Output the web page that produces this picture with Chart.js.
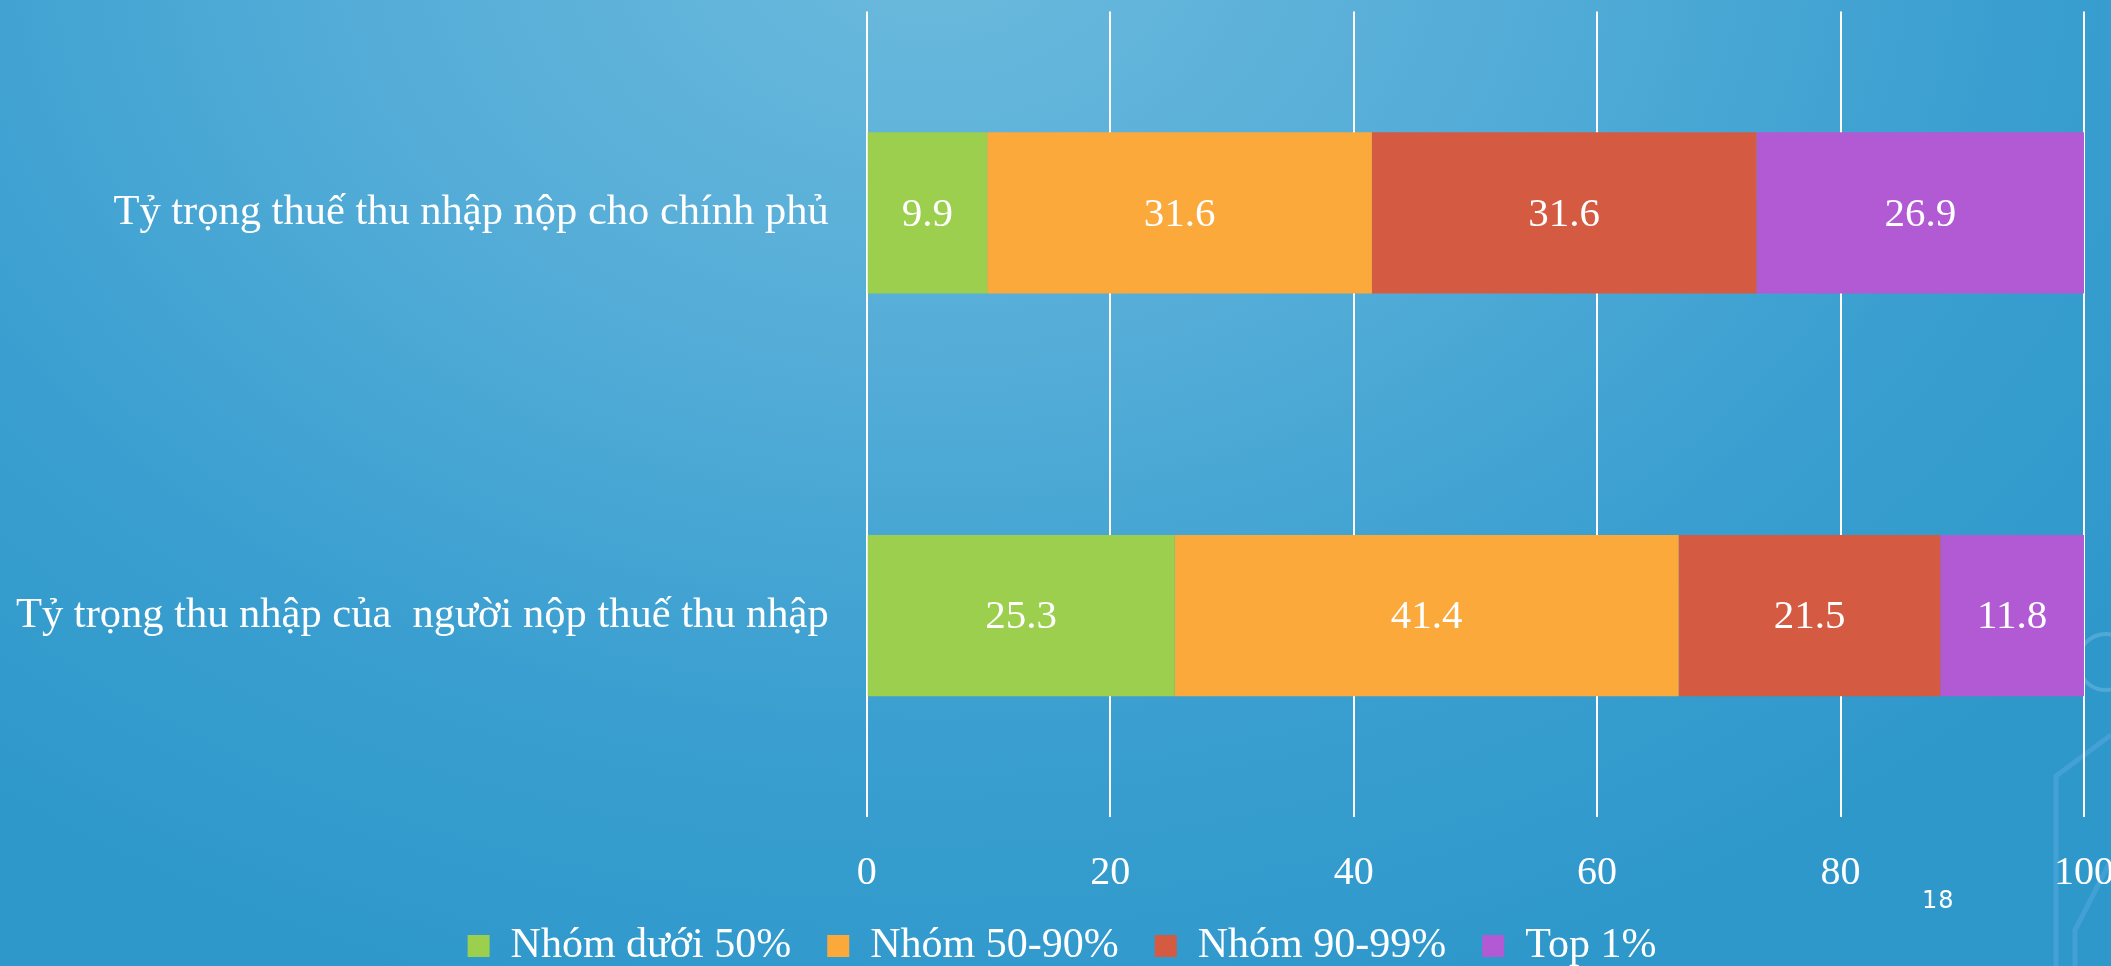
<!DOCTYPE html>
<html>
<head>
<meta charset="utf-8">
<script src="https://cdn.jsdelivr.net/npm/chart.js@4.4.1/dist/chart.umd.min.js"></script>
<style>
    html, body {
        margin: 0;
        width: 2111px;
        height: 966px;
        overflow: hidden;
    }
    body {
        position: relative;
        background: radial-gradient(ellipse 1500px 1100px at 930px -60px, #6cbadd 0%, #53acd7 40%, #3a9fd0 72%, #2f98cb 100%);
        font-family: "Liberation Serif", "Times New Roman", serif;
    }
    /* el lienzo es mas grande que la ventana: asi el "100" queda cortado como en la diapositiva */
    #wrap {
        position: absolute;
        left: -36px;
        top: -52px;
        width: 2182px;
        height: 1029px;
    }
    #pageNum {
        position: absolute;
        left: 1922px;
        top: 886px;
        color: #fff;
        font-family: "DejaVu Sans", "Open Sans", sans-serif;
        font-size: 24px;
        letter-spacing: 1px;
    }
    #deco {
        position: absolute;
        left: 0;
        top: 0;
    }
</style>
</head>
<body>
<svg id="deco" width="2111" height="966">
    <circle cx="2106" cy="662" r="28" fill="none" stroke="rgba(120,190,230,0.45)" stroke-width="4"/>
    <polyline points="2111,735 2056,776 2056,966" fill="none" stroke="rgba(90,170,225,0.5)" stroke-width="5"/>
    <polyline points="2111,860 2075,930 2075,966" fill="none" stroke="rgba(90,170,225,0.45)" stroke-width="5"/>
</svg>
<div id="wrap"><canvas id="grafico"></canvas></div>
<div id="pageNum">18</div>
<script>
const categorias = [
    'Tỷ trọng thuế thu nhập nộp cho chính phủ',
    'Tỷ trọng thu nhập của  người nộp thuế thu nhập'
];
const grupos = ['Nhóm dưới 50%', 'Nhóm 50-90%', 'Nhóm 90-99%', 'Top 1%'];
const nhomDuoi50 = [9.9, 25.3];
const nhom50_90 = [31.6, 41.4];
const nhom90_99 = [31.6, 21.5];
const top1 = [26.9, 11.8];
const ticksX = [0, 20, 40, 60, 80, 100];

const colores = ['#9bcf4d', '#fba93b', '#d45a42', '#b259d4'];
const serie = [nhomDuoi50, nhom50_90, nhom90_99, top1];
const fuente = '"Liberation Serif", "Times New Roman", serif';

const etiquetasBarras = {
    id: 'etiquetasBarras',
    afterDatasetsDraw(chart) {
        const ctx = chart.ctx;
        ctx.save();
        ctx.font = '41px ' + fuente;
        ctx.fillStyle = '#ffffff';
        ctx.textAlign = 'center';
        ctx.textBaseline = 'middle';
        chart.data.datasets.forEach((ds, i) => {
            chart.getDatasetMeta(i).data.forEach((bar, j) => {
                const p = bar.getProps(['x', 'y', 'base'], true);
                ctx.fillText(ds.data[j].toFixed(1), (p.x + p.base) / 2, p.y + 2);
            });
        });
        ctx.restore();
    }
};

new Chart(document.getElementById('grafico'), {
    type: 'bar',
    data: {
        labels: categorias,
        datasets: grupos.map((g, i) => ({
            label: g,
            data: serie[i],
            backgroundColor: colores[i],
            borderWidth: 0,
            categoryPercentage: 0.4,
            barPercentage: 1.0
        }))
    },
    options: {
        indexAxis: 'y',
        responsive: true,
        maintainAspectRatio: false,
        animation: false,
        layout: {
            padding: { left: 14, top: 11, right: 0, bottom: 0 }
        },
        scales: {
            x: {
                stacked: true,
                min: 0,
                max: 100,
                afterBuildTicks: scale => {
                    scale.ticks = ticksX.map(v => ({ value: v }));
                },
                afterFit: scale => {
                    scale.height = 72;
                },
                grid: {
                    color: '#ffffff',
                    lineWidth: 2,
                    drawTicks: false
                },
                border: { display: false },
                ticks: {
                    color: '#ffffff',
                    padding: 32,
                    font: { family: fuente, size: 40 }
                }
            },
            y: {
                stacked: true,
                grid: { display: false, drawTicks: false },
                border: { display: false },
                ticks: {
                    color: '#ffffff',
                    padding: 38,
                    font: { family: fuente, size: 42.5 }
                }
            }
        },
        plugins: {
            legend: {
                position: 'bottom',
                labels: {
                    color: '#ffffff',
                    boxWidth: 22,
                    boxHeight: 22,
                    padding: 36,
                    font: { family: fuente, size: 42 }
                }
            },
            tooltip: { enabled: false }
        }
    },
    plugins: [etiquetasBarras]
});
</script>
</body>
</html>
